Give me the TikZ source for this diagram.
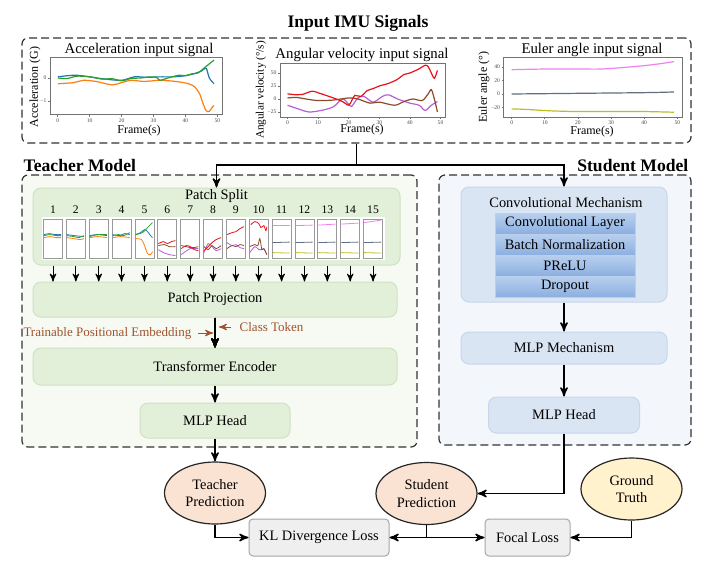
\documentclass[tikz,border=0pt]{standalone}
\usepackage{fontspec}
\setmainfont{Liberation Serif}
\usetikzlibrary{arrows,shapes,positioning}

\definecolor{tgreen}{HTML}{E2EFD9}
\definecolor{tgreenline}{HTML}{CFE2C2}
\definecolor{tback}{HTML}{F6FAF2}
\definecolor{sblue}{HTML}{DAE5F3}
\definecolor{sblueline}{HTML}{C6D6EC}
\definecolor{sback}{HTML}{F3F7FC}
\definecolor{layertop}{HTML}{B8D0EF}
\definecolor{layerbot}{HTML}{8CAFE0}
\definecolor{peach}{HTML}{FBE3D3}
\definecolor{cream}{HTML}{FFF2CC}
\definecolor{lossgrey}{HTML}{EFEFEF}
\definecolor{embtext}{HTML}{A0522D}
\definecolor{accb}{HTML}{1F77B4}
\definecolor{acco}{HTML}{FF7F0E}
\definecolor{accg}{HTML}{2CA02C}
\definecolor{angr}{HTML}{E8141B}
\definecolor{angn}{HTML}{8C4B2A}
\definecolor{angp}{HTML}{B65FD6}
\definecolor{eulp}{HTML}{EE82EE}
\definecolor{eulg}{HTML}{5F7080}
\definecolor{eulo}{HTML}{BCBD22}

\newcommand{\sigline}[2]{\draw[#1] plot[smooth] coordinates {#2};}
\newcommand{\patchsig}[2]{\begin{scope}[shift={(p#1.north west)}]#2\end{scope}}

\begin{document}
\begin{tikzpicture}[x=0.5pt,y=-0.5pt,>=stealth',line width=0.7pt,
  font=\fontsize{7.2}{8.6}\selectfont]
  \tikzset{frame/.style={draw=black!80,dash pattern=on 4pt off 2pt,rounded corners=3pt,line width=0.6pt,inner sep=0pt},
    head/.style={font=\fontsize{8.8}{10}\selectfont\bfseries,inner sep=0pt},
    ptitle/.style={font=\fontsize{7.4}{8}\selectfont,inner sep=0pt},
    axlab/.style={font=\fontsize{6}{7}\selectfont,inner sep=0pt},
    tick/.style={font=\fontsize{2.8}{3}\selectfont,inner sep=0.6pt,text=black!70},
    axis/.style={draw=black!55,line width=0.35pt},
    sig/.style={line width=0.6pt},
    psig/.style={line width=0.4pt},
    num/.style={font=\fontsize{5.8}{6}\selectfont,inner sep=1pt},
    patch/.style={draw=black!40,fill=white,line width=0.4pt,minimum width=9.5pt,minimum height=19.5pt,inner sep=0pt},
    tblock/.style={draw=tgreenline,fill=tgreen,rounded corners=4pt,line width=0.5pt,inner sep=0pt},
    sblock/.style={draw=sblueline,fill=sblue,rounded corners=4pt,line width=0.5pt,inner sep=0pt},
    layer/.style={top color=layertop,bottom color=layerbot,draw=layerbot!60!white,line width=0.4pt,
      minimum width=70pt,minimum height=10.5pt,inner sep=0pt,outer sep=0pt},
    emb/.style={text=embtext,font=\fontsize{6.5}{7}\selectfont,inner sep=1pt},
    pred/.style={ellipse,draw=black!85,fill=peach,line width=0.6pt,minimum width=50.5pt,minimum height=31pt,inner sep=0pt,align=center},
    truth/.style={pred,fill=cream},
    loss/.style={draw=black!35,fill=lossgrey,rounded corners=2pt,line width=0.5pt,minimum height=18.5pt,inner sep=0pt}}
  \useasboundingbox (0,0) rectangle (728,568);
  \fill[white] (0,0) rectangle (728,568);

  % input signals
  \node[head] (intitle) at (358,23) {Input IMU Signals};
  \node[frame,fill=white,minimum width=334.5pt,minimum height=52.5pt] (inbox) at (356.5,90.5) {};

  \node[ptitle] (acctitle) at (139,50) {Acceleration input signal};
  \node[axlab,rotate=90] (acclab) at (35,87) {Acceleration (G)};
  \node[axlab] (accx) at (139,131) {Frame(s)};
  \begin{scope}[shift={(57.8,78)},x=1.595pt,y=11.5pt]
    \draw[axis] (-2.45,-1.6) rectangle (51.45,0.91);
    \foreach \t in {0,10,...,50}
      \draw[axis] (\t,-1.6) -- ++(0pt,-1pt) node[tick,below] {\t};
    \foreach \v/\l in {0/0,-1/−1}
      \draw[axis] (-2.45,\v) -- ++(-1pt,0pt) node[tick,left] {\l};
    \sigline{acco,sig}{(0,-0.25)(5,-0.2)(8,-0.1)(12,-0.15)(17,-0.3)(20,-0.2)(23,-0.1)(27,-0.15)(32,-0.1)(37,-0.15)(41,-0.25)(43,-0.4)(44.5,-0.7)(45.5,-1.1)(46.5,-1.42)(47.5,-1.45)(48.5,-1.25)(49,-1.2)}
    \sigline{accb,sig}{(0,0.05)(3,0.1)(6,0.12)(10,0.05)(15,-0.05)(20,-0.1)(24,0.05)(28,0.03)(32,0.05)(36,0.05)(40,0.1)(43,0.2)(45,0.3)(46.5,0.42)(47.5,0)(49,-0.25)}
    \sigline{accg,sig}{(0,0)(3,-0.02)(6,0.08)(10,0.05)(14,-0.05)(17,-0.03)(20,-0.12)(23,-0.02)(26,0)(29,0.05)(31,0.02)(32,-0.1)(35,0.02)(38,0.12)(40,0.1)(42,0.18)(44,0.22)(46,0.45)(49,0.78)}
  \end{scope}

  \node[ptitle] (angtitle) at (362,55) {Angular velocity input signal};
  \node[axlab,rotate=90,font=\fontsize{5.6}{6}\selectfont] (anglab) at (261,90) {Angular velocity (°/s)};
  \node[axlab] (angx) at (362,130) {Frame(s)};
  \begin{scope}[shift={(287.5,99)},x=1.53pt,y=0.26pt]
    \draw[axis] (-2.45,-34.6) rectangle (51.45,69);
    \foreach \t in {0,10,...,50}
      \draw[axis] (\t,-34.6) -- ++(0pt,-1pt) node[tick,below] {\t};
    \foreach \v/\l in {50/50,25/25,0/0,-25/−25}
      \draw[axis] (-2.45,\v) -- ++(-1pt,0pt) node[tick,left] {\l};
    \sigline{angp,sig}{(0,-12)(4,-20)(7,-25)(11,-22)(15,-15)(18,0)(20,-10)(21,-14)(23,2)(25,5)(28,-6)(31,5)(33,8)(36,0)(40,-8)(43,-12)(45,-22)(47,-12)(49,-5)}
    \sigline{angn,sig}{(0,2)(3,3)(6,0)(10,-3)(15,-2)(20,2)(23,0)(27,-8)(30,-6)(35,-12)(38,-5)(41,0)(44,-3)(46,10)(47,18)(48,0)(49,-25)}
    \sigline{angr,sig}{(0,10)(3,8)(5,9)(8,15)(10,12)(15,2)(18,-5)(20,-12)(21,-3)(22,7)(24,5)(26,16)(28,20)(30,25)(33,30)(36,38)(38,47)(40,50)(43,58)(45,65)(46,62)(47,50)(48,40)(49,55)}
  \end{scope}

  \node[ptitle] (eultitle) at (592,50) {Euler angle input signal};
  \node[axlab,rotate=90] (eullab) at (484,87) {Euler angle (°)};
  \node[axlab] (eulx) at (592,132) {Frame(s)};
  \begin{scope}[shift={(511.7,94)},x=1.656pt,y=0.3375pt]
    \draw[axis] (-2.45,-34) rectangle (51.45,55);
    \foreach \t in {0,10,...,50}
      \draw[axis] (\t,-34) -- ++(0pt,-1pt) node[tick,below] {\t};
    \foreach \v/\l in {40/40,20/20,0/0,-20/−20}
      \draw[axis] (-2.45,\v) -- ++(-1pt,0pt) node[tick,left] {\l};
    \sigline{eulp,sig}{(0,36)(10,37)(20,37)(27,37)(33,39)(40,42)(45,45)(49,48)}
    \sigline{eulg,sig}{(0,0)(20,1)(40,2)(49,3)}
    \sigline{eulo,sig}{(0,-22)(5,-23)(12,-25)(20,-26)(30,-26)(40,-26)(49,-27)}
  \end{scope}

  % model frames
  \node[frame,fill=tback,minimum width=197.5pt,minimum height=136pt] (tframe) at (219.5,311) {};
  \node[frame,fill=sback,minimum width=126pt,minimum height=135pt] (sframe) at (565,310) {};
  \node[head,anchor=west] (tlabel) at (23,165) {Teacher Model};
  \node[head,anchor=east] (slabel) at (689,165) {Student Model};

  % teacher
  \node[tblock,minimum width=183.5pt,minimum height=38.5pt] (split) at (216.5,226.5) {};
  \node (splitlbl) at (216.5,196) {Patch Split};
  \node[tblock,minimum width=182pt,minimum height=17.5pt] (proj) at (215,299.5) {Patch Projection};
  \node[tblock,minimum width=182pt,minimum height=18.5pt] (enc) at (215,366.5) {Transformer Encoder};
  \node[tblock,minimum width=75pt,minimum height=17.5pt] (thead) at (215,420.5) {MLP Head};
  \fill[white] (42,217) rectangle (385,260);
  \foreach \i in {1,...,15} {
    \node[patch] (p\i) at ({53+(\i-1)*22.86},238.5) {};
    \node[num,above=1pt of p\i] (n\i) {\i};
    \draw[->,line width=0.5pt] (p\i.south |- split.south) -- (p\i.south |- proj.north);
  }
  \patchsig{1}{\sigline{acco,psig}{(1,19)(7,18)(13,19)(18,19)}\sigline{accb,psig}{(1,16)(6,15)(12,16)(18,16)}\sigline{accg,psig}{(1,17)(7,16)(13,17)(18,17)}}
  \patchsig{2}{\sigline{acco,psig}{(1,19)(8,20)(14,21)(18,20)}\sigline{accb,psig}{(1,16)(8,17)(18,18)}\sigline{accg,psig}{(1,17)(8,18)(13,19)(18,17)}}
  \patchsig{3}{\sigline{acco,psig}{(1,19)(9,18)(18,19)}\sigline{accb,psig}{(1,17)(8,16)(18,17)}\sigline{accg,psig}{(1,18)(9,16)(18,16)}}
  \patchsig{4}{\sigline{acco,psig}{(1,19)(9,18)(18,19)}\sigline{accb,psig}{(1,16)(8,17)(13,15)(18,16)}\sigline{accg,psig}{(1,17)(7,16)(12,17)(18,14)}}
  \patchsig{5}{\sigline{acco,psig}{(1,20)(7,21)(10,27)(13,35)(16,36)(18,33)}\sigline{accb,psig}{(1,16)(6,14)(10,11)(13,13)(16,17)(18,19)}\sigline{accg,psig}{(1,16)(8,14)(13,9)(18,4)}}
  \patchsig{6}{\sigline{angp,psig}{(1,31)(6,34)(12,36)(18,37)}\sigline{angn,psig}{(1,27)(7,26)(12,28)(18,28)}\sigline{angr,psig}{(1,25)(6,23)(10,25)(14,23)(18,22)}}
  \patchsig{7}{\sigline{angp,psig}{(1,36)(5,33)(10,30)(14,30)(18,30)}\sigline{angn,psig}{(1,27)(6,28)(10,29)(14,29)(18,28)}\sigline{angr,psig}{(1,30)(6,27)(10,28)(14,31)(18,32)}}
  \patchsig{8}{\sigline{angp,psig}{(1,34)(5,25)(9,28)(13,32)(18,30)}\sigline{angn,psig}{(1,28)(5,31)(9,27)(13,30)(18,27)}\sigline{angr,psig}{(1,32)(5,28)(9,24)(13,21)(18,19)}}
  \patchsig{9}{\sigline{angp,psig}{(1,24)(6,27)(10,26)(14,29)(18,30)}\sigline{angn,psig}{(1,30)(6,27)(10,28)(14,26)(18,27)}\sigline{angr,psig}{(1,16)(6,14)(10,13)(14,10)(18,8)}}
  \patchsig{10}{\sigline{angp,psig}{(1,34)(6,28)(10,31)(13,31)(15,30)(18,36)}\sigline{angn,psig}{(1,28)(6,26)(9,27)(11,20)(13,31)(15,30)(18,36)}\sigline{angr,psig}{(2,6)(6,3)(10,5)(12,9)(15,7)(17,12)(18,8)}}
  \foreach \i/\a/\b in {11/7/7,12/7/6.5,13/6.5/5.5,14/5.5/4.5,15/4/1.5}
    \patchsig{\i}{\draw[eulp,psig] (1,\a) -- (18,\b); \draw[eulg,psig] (1,24) -- (18,23.5); \draw[eulo,psig] (1,34) -- (18,34.5);}
  \draw[->] (proj) -- (enc);
  \draw[->] (enc) -- (thead);
  \node[emb,anchor=east] (posemb) at (194,333) {Trainable Positional Embedding};
  \node[emb,anchor=west] (clstok) at (237,327) {Class Token};
  \coordinate (posin) at (213,333);
  \coordinate (clsin) at (219,327);
  \draw[->,embtext,line width=0.5pt,shorten <=2pt] (posemb) -- (posin);
  \draw[->,embtext,line width=0.5pt,shorten <=3pt] (clstok) -- (clsin);

  % student
  \node[sblock,minimum width=103pt,minimum height=57.5pt] (conv) at (564,244.5) {};
  \node (convlbl) at (566,203) {Convolutional Mechanism};
  \node[layer] (clayer) at (565,223.5) {Convolutional Layer};
  \node[layer,below=0pt of clayer] (bnorm) {Batch Normalization};
  \node[layer,below=0pt of bnorm] (prelu) {PReLU};
  \node[layer,below=0pt of prelu] (dropout) {Dropout};
  \node[sblock,minimum width=103pt,minimum height=16pt] (mlpm) at (564,348) {MLP Mechanism};
  \node[sblock,minimum width=75.5pt,minimum height=18pt] (shead) at (564,415) {MLP Head};
  \draw[->] (conv) -- (mlpm);
  \draw[->] (mlpm) -- (shead);

  % input to both models
  \coordinate (fork) at (356.5,165);
  \draw (inbox.south) -- (fork);
  \draw[->] (fork) -| (split.north);
  \draw[->] (fork) -| (conv.north);

  % outputs and losses
  \node[pred] (tpred) at (215,493) {Teacher\\Prediction};
  \node[pred] (spred) at (426.5,493.5) {Student\\Prediction};
  \node[truth] (gtruth) at (631.5,489) {Ground\\Truth};
  \node[loss,minimum width=70pt] (kl) at (319,537.5) {KL Divergence Loss};
  \node[loss,minimum width=42.5pt] (focal) at (527.5,537.5) {Focal Loss};
  \draw[->] (thead) -- (tpred);
  \draw[->] (shead) |- (spred);
  \draw[->] (tpred) |- (kl);
  \draw[->] (spred) |- (kl);
  \draw[->] (spred) |- (focal);
  \draw[->] (gtruth) |- (focal);
\end{tikzpicture}
\end{document}
